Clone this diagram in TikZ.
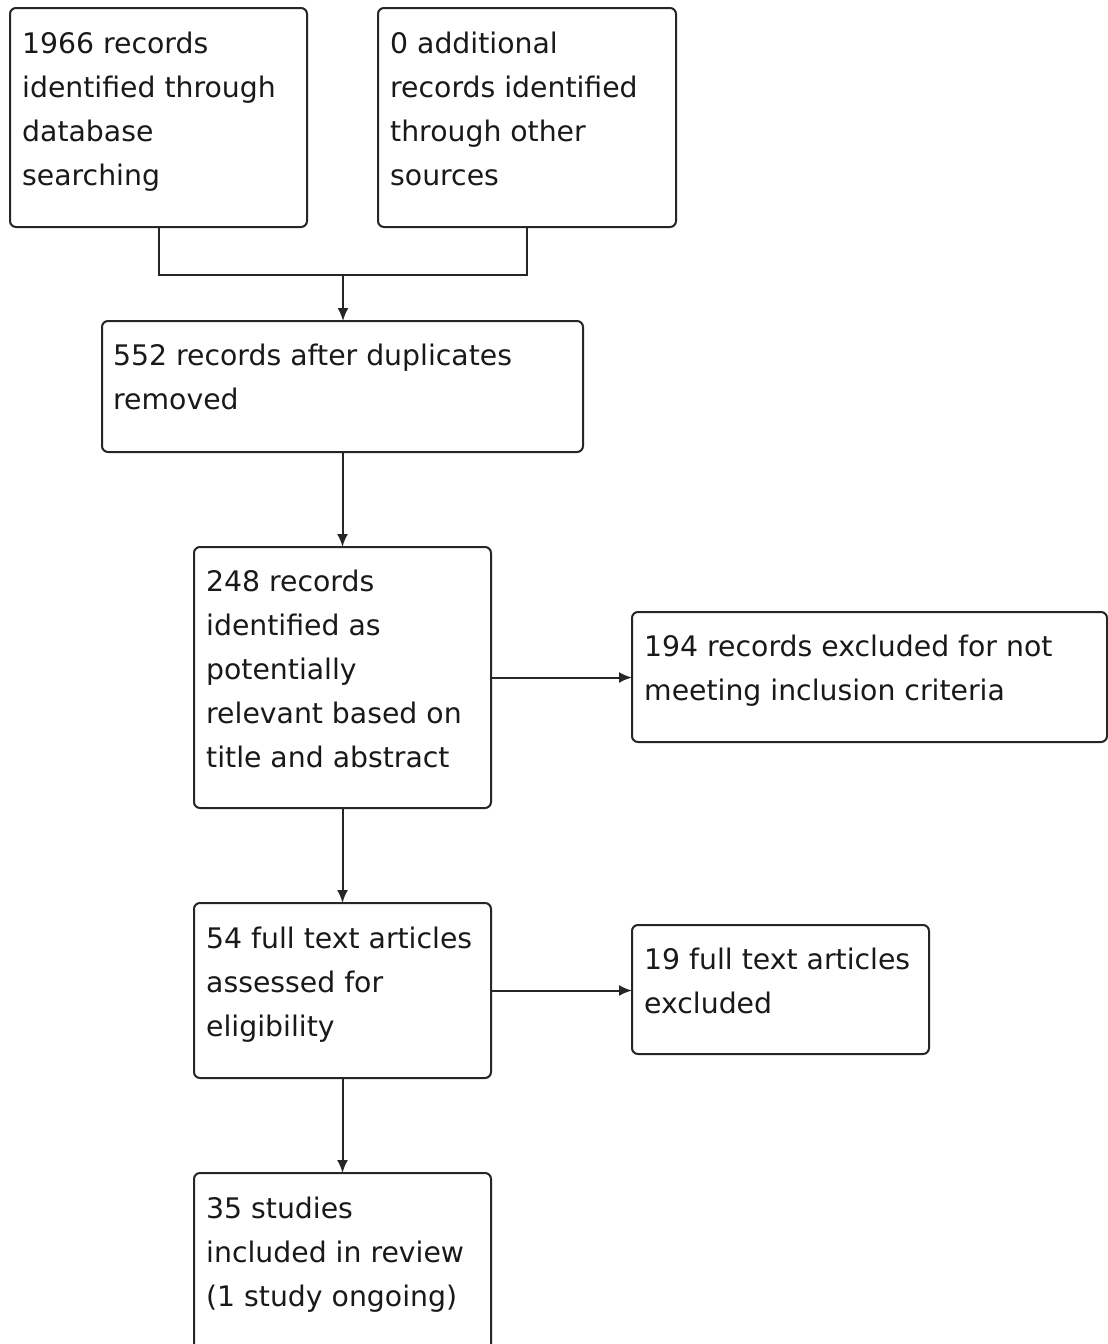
\documentclass[tikz,border=0pt]{standalone}
\usepackage{fontspec}
\setmainfont{DejaVu Sans}
\usetikzlibrary{arrows.meta}
\begin{document}
\begin{tikzpicture}[x=1pt,y=-1pt,
  box/.style={draw=black!85, line width=2pt, rectangle, rounded corners=6pt,
    inner sep=0pt, outer sep=0pt, anchor=north west},
  txt/.style={anchor=base west, align=left, inner sep=0pt,
    font=\fontsize{28.3}{44}\selectfont, text=black!90},
  line/.style={line width=2pt, draw=black!85},
  arr/.style={line, -{Latex[length=13pt,width=11pt]}}]
\clip (0,0) rectangle (1108,1344);
\fill[white] (0,0) rectangle (1108,1344);
% boxes
\node[box, minimum width=297pt, minimum height=219pt] (b1) at (10,8) {};
\node[box, minimum width=298pt, minimum height=219pt] (b2) at (378,8) {};
\node[box, minimum width=481pt, minimum height=131pt] (b3) at (102,321) {};
\node[box, minimum width=297pt, minimum height=261pt] (b4) at (194,547) {};
\node[box, minimum width=475pt, minimum height=130pt] (b5) at (632,612) {};
\node[box, minimum width=297pt, minimum height=175pt] (b6) at (194,903) {};
\node[box, minimum width=297pt, minimum height=129pt] (b7) at (632,925) {};
\node[box, minimum width=297pt, minimum height=200pt] (b8) at (194,1173) {};
% texts (base anchor = baseline of last line)
\node[txt] (t1) at (22,185) {1966 records\\identified through\\database\\searching};
\node[txt] (t2) at (390,185) {0 additional\\records identified\\through other\\sources};
\node[txt] (t3) at (113,409) {552 records after duplicates\\removed};
\node[txt] (t4) at (206,767) {248 records\\identified as\\potentially\\relevant based on\\title and abstract};
\node[txt] (t5) at (644,700) {194 records excluded for not\\meeting inclusion criteria};
\node[txt] (t6) at (206,1036) {54 full text articles\\assessed for\\eligibility};
\node[txt] (t7) at (644,1013) {19 full text articles\\excluded};
\node[txt] (t8) at (206,1306) {35 studies\\included in review\\(1 study ongoing)};
% connectors
\coordinate (j) at (343,275);
\draw[line] (b1.south) -- (b1.south |- j) -- (j -| b2.south) -- (b2.south);
\draw[arr] (j) -- (j |- b3.north);
\draw[arr] (b3.south) -- (b3.south |- b4.north);
\draw[arr] (b4.east) -- (b4.east -| b5.west);
\draw[arr] (b4.south) -- (b6.north);
\draw[arr] (b6.east) -- (b6.east -| b7.west);
\draw[arr] (b6.south) -- (b8.north);
\end{tikzpicture}
\end{document}
